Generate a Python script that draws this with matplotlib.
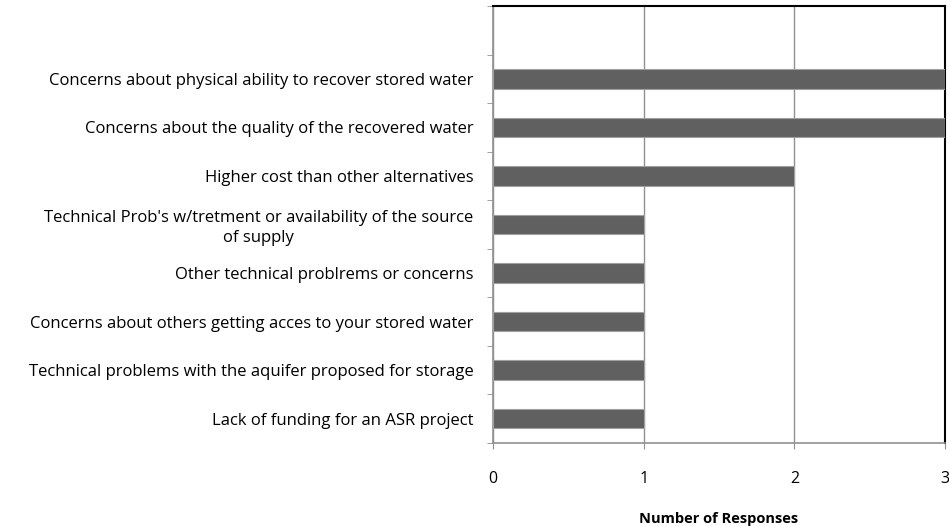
import matplotlib.pyplot as plt
from matplotlib.ticker import FixedLocator

plt.rcParams['font.family'] = ['Open Sans', 'DejaVu Sans']

# data, bottom to top
categories = [
    "Lack of funding for an ASR project",
    "Technical problems with the aquifer proposed for storage",
    "Concerns about others getting acces to your stored water",
    "Other technical problrems or concerns",
    "Technical Prob's w/tretment or availability of the source\nof supply",
    "Higher cost than other alternatives",
    "Concerns about the quality of the recovered water",
    "Concerns about physical ability to recover stored water",
]
responses = [1, 1, 1, 1, 1, 2, 3, 3]
x_ticks = [0, 1, 2, 3]

fig = plt.figure(figsize=(9.49, 5.26), dpi=100)
ax = fig.add_axes([0.5195, 0.1578, 0.4763, 0.8308])

ypos = list(range(len(categories)))
ax.barh(ypos, responses, height=0.4, color="#606060", edgecolor="#a0a0a0", linewidth=0.8, zorder=3)

ax.set_xlim(0, 3)
ax.set_ylim(-0.5, len(categories) + 0.5)
ax.set_xticks(x_ticks)
ax.set_xticklabels([str(t) for t in x_ticks], fontsize=11.5)
ax.tick_params(axis="x", length=4, color="#909090", pad=16, direction="out")
ax.xaxis.grid(True, color="#909090", linewidth=1, zorder=0)

ax.set_yticks(ypos)
ax.set_yticklabels(categories, fontsize=12, multialignment="center", linespacing=1.3)
ax.tick_params(axis="y", which="major", length=0, pad=14)
ax.yaxis.set_minor_locator(FixedLocator([i - 0.5 for i in range(len(categories) + 2)]))
ax.tick_params(axis="y", which="minor", length=4, color="#909090", direction="out")

for s in ["left", "bottom"]:
    ax.spines[s].set_color("#909090")
    ax.spines[s].set_linewidth(1.2)
for s in ["top", "right"]:
    ax.spines[s].set_color("black")
    ax.spines[s].set_linewidth(1.5)

ax.set_xlabel("Number of Responses", fontsize=10.5, fontweight="bold", labelpad=18.5)

fig.savefig("out.png", dpi=100)
